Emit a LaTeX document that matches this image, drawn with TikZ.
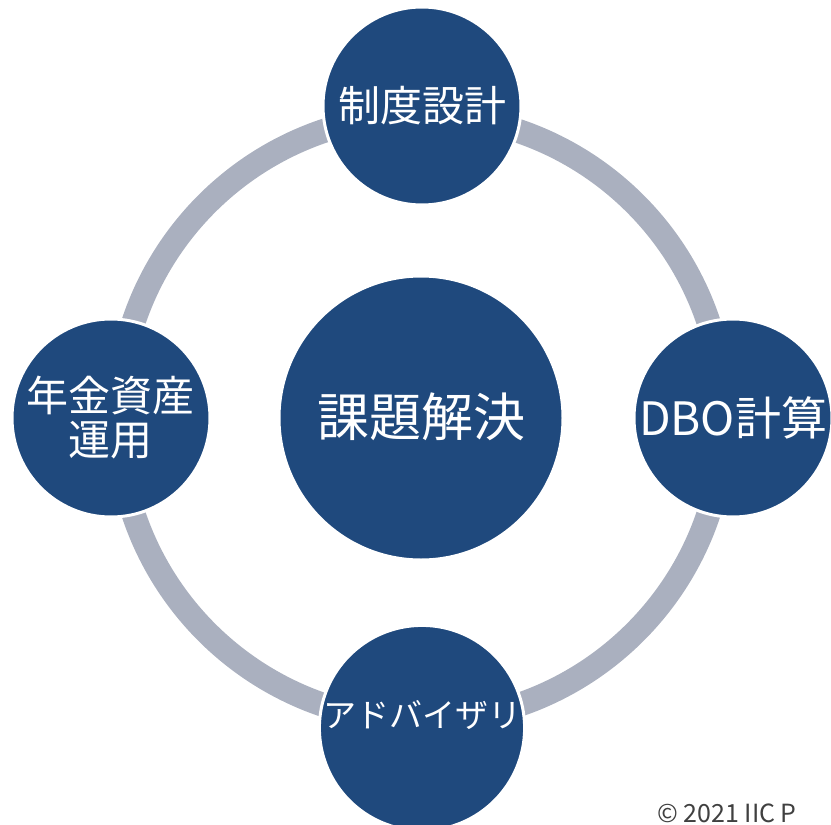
\documentclass[tikz,border=0pt]{standalone}
\usepackage{fontspec}
\newfontfamily\jpfont{Noto Sans CJK JP}
\definecolor{ringgray}{RGB}{170,176,191}
\definecolor{navy}{RGB}{31,73,125}
\definecolor{notegray}{RGB}{64,64,64}

\begin{document}
\begin{tikzpicture}[x=1pt,y=-1pt,
  hub/.style={circle,fill=navy,draw=white,line width=3pt,minimum size=284pt,inner sep=0pt,text=white,font=\jpfont\fontsize{52}{60}\selectfont},
  spoke/.style={circle,fill=navy,draw=white,line width=3pt,minimum size=198pt,inner sep=0pt,text=white,align=center,font=\jpfont\fontsize{42}{47}\selectfont},
  ring/.style={draw=ringgray,line width=24pt}]
\useasboundingbox (0,0) rectangle (831,825);
\clip (0,0) rectangle (831,825);
\node[hub] (c) at (421,418) {\raisebox{6pt}{課題解決}};
\draw[ring] (c.center) circle (303pt);
\node[spoke] (top) at (422,106) {\raisebox{5pt}{制度設計}};
\node[spoke] (right) at (733,418) {\raisebox{4pt}{\fontsize{46}{50}\selectfont DBO計算}};
\node[spoke] (bottom) at (422,728) {\raisebox{28pt}{\fontsize{33}{40}\selectfont アドバイザリ}};
\node[spoke] (left) at (111,418) {年金資産\\[-3pt]運用};
\node[anchor=south west,inner sep=0pt,text=notegray,font=\jpfont\fontsize{25}{28}\selectfont] (note) at (657,823) {© 2021 IIC P};
\end{tikzpicture}
\end{document}
